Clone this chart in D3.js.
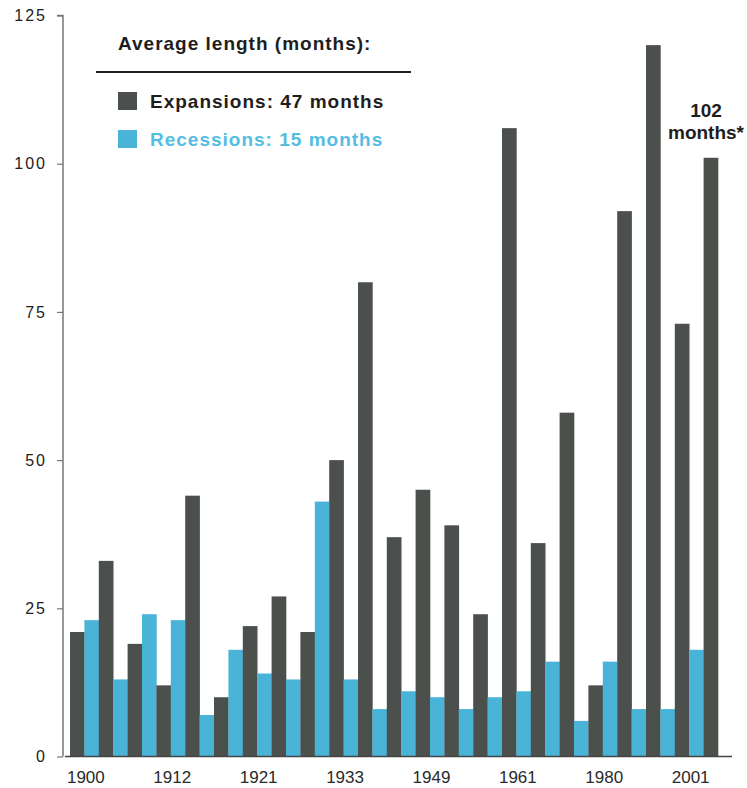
<!DOCTYPE html>
<html>
<head>
<meta charset="utf-8">
<script src="https://cdn.jsdelivr.net/npm/d3@7"></script>
<style>
  body { margin: 0; background: #fff; }
  svg { display: block; font-family: "Liberation Sans", Arial, sans-serif; }
</style>
</head>
<body>
<svg id="chart" width="747" height="788"></svg>
<script>
// lengths in months, alternating expansion / recession from 1900 on
var expansions = [21, 33, 19, 12, 44, 10, 22, 27, 21, 50, 80, 37, 45, 39, 24, 106, 36, 58, 12, 92, 120, 73, 101];
var recessions = [23, 13, 24, 23, 7, 18, 14, 13, 43, 13, 8, 11, 10, 8, 10, 11, 16, 6, 16, 8, 8, 18];
var tickYears = ['1900', '1912', '1921', '1933', '1949', '1961', '1980', '2001'];
var yTicks = [0, 25, 50, 75, 100, 125];

var DARK = '#4b504d';
var BLUE = '#49b3d8';

var svg = d3.select('#chart');

// build the interleaved bar list
var bars = [];
expansions.forEach(function (v, i) {
  bars.push({ kind: 'exp', value: v });
  if (i < recessions.length) bars.push({ kind: 'rec', value: recessions[i] });
});

var x = d3.scaleBand()
  .domain(d3.range(bars.length))
  .range([70, 718])
  .padding(0);

var y = d3.scaleLinear()
  .domain([0, 125])
  .range([756.5, 15.5]);

// bars
svg.selectAll('.bar')
  .data(bars)
  .enter().append('rect')
  .attr('class', 'bar')
  .attr('x', function (d, i) { return x(i); })
  .attr('width', x.bandwidth() + 0.3)
  .attr('y', function (d) { return y(d.value); })
  .attr('height', function (d) { return y(0) - y(d.value); })
  .attr('fill', function (d) { return d.kind === 'exp' ? DARK : BLUE; });

// y axis
var yAxis = d3.axisLeft(y)
  .tickValues(yTicks)
  .tickSize(6)
  .tickPadding(10);

var gy = svg.append('g')
  .attr('transform', 'translate(63,0)')
  .call(yAxis);
gy.select('.domain').attr('stroke', '#777').attr('stroke-width', 1.5).attr('d', 'M-6,' + y(125) + 'H0V' + y(0));
gy.selectAll('.tick line').attr('stroke', '#777').attr('stroke-width', 1.2);
gy.selectAll('.tick text')
  .attr('fill', '#222')
  .style('font-size', '16px')
  .style('letter-spacing', '2px');

// x axis line
svg.append('line')
  .attr('x1', 65).attr('x2', 732)
  .attr('y1', y(0)).attr('y2', y(0))
  .attr('stroke', '#444')
  .attr('stroke-width', 1.5);

// x labels every 6 bars
svg.selectAll('.xlabel')
  .data(tickYears)
  .enter().append('text')
  .attr('class', 'xlabel')
  .attr('x', function (d, i) { return x(i * 6 + 1) + x.bandwidth() * 0.1; })
  .attr('y', 783)
  .attr('text-anchor', 'middle')
  .attr('fill', '#2a2a2a')
  .style('font-size', '17px')
  .text(function (d) { return d; });

// legend
var legend = svg.append('g');
legend.append('text')
  .attr('x', 118).attr('y', 50)
  .attr('fill', '#1e1e1e')
  .style('font-size', '19px')
  .style('font-weight', 'bold')
  .style('letter-spacing', '1px')
  .text('Average length (months):');
legend.append('line')
  .attr('x1', 96).attr('x2', 411)
  .attr('y1', 72).attr('y2', 72)
  .attr('stroke', '#222')
  .attr('stroke-width', 2);

var items = [
  { label: 'Expansions: 47 months', color: DARK, text: '#1e1e1e', y: 108 },
  { label: 'Recessions: 15 months', color: BLUE, text: '#55bde2', y: 146 }
];
var item = legend.selectAll('.item')
  .data(items)
  .enter().append('g')
  .attr('class', 'item');
item.append('rect')
  .attr('x', 118)
  .attr('y', function (d) { return d.y - 16; })
  .attr('width', 19)
  .attr('height', 18)
  .attr('fill', function (d) { return d.color; });
item.append('text')
  .attr('x', 150)
  .attr('y', function (d) { return d.y; })
  .attr('fill', function (d) { return d.text; })
  .style('font-size', '19px')
  .style('font-weight', 'bold')
  .style('letter-spacing', '1px')
  .text(function (d) { return d.label; });

// note over the last expansion
var note = svg.append('text')
  .attr('text-anchor', 'middle')
  .attr('fill', '#1e1e1e')
  .style('font-size', '19px')
  .style('font-weight', 'bold');
note.append('tspan').attr('x', 706).attr('y', 117).text('102');
note.append('tspan').attr('x', 706).attr('y', 139).text('months*');
</script>
</body>
</html>
